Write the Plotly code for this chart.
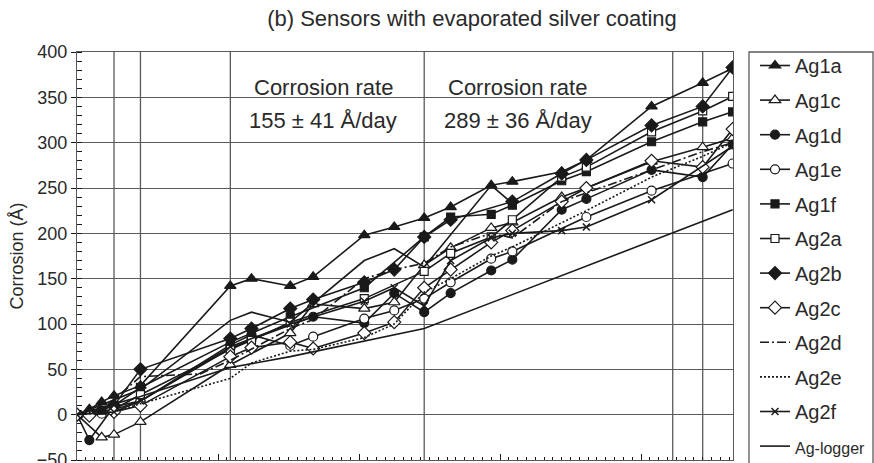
import plotly.graph_objects as go

# Elapsed time (hours) and corrosion thickness (Å) for each sensor
ag1a_t = [0, 0.7, 1.4, 2.1, 3.6, 8.7, 9.9, 12.1, 13.4, 16.3, 18.0, 19.7, 21.2, 23.5, 24.7, 27.5, 28.9, 32.6, 35.5, 37.2]
ag1a_v = [0, 6, 14, 21, 32, 142, 150, 142, 152, 198, 207, 217, 229, 253, 257, 268, 281, 340, 366, 382]

ag1c_t = [0, 1.4, 2.1, 3.6, 8.7, 12.1, 13.4, 16.3, 18.0, 19.7, 21.2, 23.5, 24.7, 27.5, 28.9, 32.6, 35.5, 37.2]
ag1c_v = [0, -25, -22, -8, 55, 90, 122, 117, 124, 165, 184, 206, 212, 240, 250, 279, 295, 305]

ag1d_t = [0, 0.7, 2.1, 3.6, 8.7, 9.9, 13.4, 16.3, 18.0, 19.7, 21.2, 23.5, 24.7, 27.5, 28.9, 32.6, 35.5, 37.2]
ag1d_v = [0, -28, 9, 15, 73, 83, 108, 101, 134, 113, 134, 159, 171, 226, 238, 270, 262, 298]

ag1e_t = [0, 1.4, 3.6, 8.7, 9.9, 12.1, 13.4, 16.3, 18.0, 19.7, 21.2, 23.5, 24.7, 28.9, 32.6, 37.2]
ag1e_v = [0, 1, 15, 77, 88, 76, 86, 106, 115, 128, 146, 172, 180, 218, 247, 277]

ag1f_t = [0, 1.4, 2.1, 3.6, 8.7, 9.9, 12.1, 16.3, 19.7, 21.2, 23.5, 24.7, 27.5, 28.9, 32.6, 35.5, 37.2]
ag1f_v = [0, 5, 10, 30, 80, 90, 108, 140, 196, 218, 221, 231, 258, 268, 301, 323, 334]

ag2a_t = [0, 2.1, 3.6, 8.7, 9.9, 12.1, 16.3, 19.7, 21.2, 23.5, 24.7, 27.5, 28.9, 32.6, 35.5, 37.2]
ag2a_v = [0, 6, 22, 72, 82, 102, 128, 158, 178, 196, 215, 262, 273, 312, 335, 351]

ag2b_t = [0, 2.1, 3.6, 8.7, 9.9, 12.1, 13.4, 16.3, 18.0, 19.7, 21.2, 24.7, 27.5, 28.9, 32.6, 35.5, 37.2]
ag2b_v = [0, 10, 50, 84, 95, 117, 127, 146, 160, 196, 215, 235, 266, 281, 319, 340, 383]

ag2c_t = [0, 0.7, 2.1, 3.6, 8.7, 9.9, 12.1, 13.4, 16.3, 18.0, 19.7, 21.2, 23.5, 24.7, 27.5, 28.9, 32.6, 35.5, 37.2]
ag2c_v = [0, -1, 3, 10, 64, 74, 80, 73, 90, 102, 140, 160, 190, 203, 235, 250, 280, 273, 315]

ag2d_t = [0, 1.4, 3.6, 7.0, 8.7, 12.1, 13.4, 16.3, 18.0, 19.7, 21.2, 23.5, 24.7, 27.5, 32.6, 35.5, 37.2]
ag2d_v = [0, 5, 42, 45, 60, 95, 105, 150, 160, 167, 185, 200, 195, 235, 270, 290, 300]

ag2e_t = [0, 2.1, 3.6, 8.7, 9.9, 12.1, 13.4, 16.3, 18.0, 19.7, 21.2, 23.5, 24.7, 28.9, 32.6, 35.5, 37.2]
ag2e_v = [0, 3, 12, 40, 57, 70, 72, 85, 100, 135, 150, 175, 185, 225, 262, 285, 300]

ag2f_t = [0, 2.1, 3.6, 8.7, 12.1, 16.3, 18.0, 19.7, 21.2, 23.5, 24.7, 27.5, 28.9, 32.6, 37.2]
ag2f_v = [0, 3, 15, 75, 100, 125, 140, 120, 170, 195, 200, 203, 207, 237, 296]

# unlabelled reference trace (plain solid line)
ref_t = [0, 3.6, 8.7, 9.9, 12.1, 16.3, 18.0, 19.7, 23.5, 24.7]
ref_v = [0, 28, 104, 113, 102, 170, 183, 163, 253, 233]

logger_t = [0, 3.6, 8.7, 12.1, 19.7, 37.2]
logger_v = [0, 20, 52, 64, 95, 226]

# times of the vertical reference lines
event_t = [2.1, 3.6, 8.7, 19.7, 33.8, 35.5]

INK = "#1a1a1a"
GRID = "#5a5a5a"
TXT = "#2a2a2a"
FONT = "Liberation Sans, Arial, sans-serif"

fig = go.Figure()


def add_series(name, t, v, symbol=None, filled=True, dash="solid", size=9, show=True):
    mode = "lines+markers" if symbol else "lines"
    marker = None
    if symbol:
        marker = dict(symbol=symbol, size=size,
                      color=INK if filled else "white",
                      line=dict(color=INK, width=1.2))
        if symbol.startswith("x"):
            marker = dict(symbol=symbol, size=size, color=INK,
                          line=dict(color=INK, width=1.5))
    fig.add_trace(go.Scatter(
        x=t, y=v, name=name, mode=mode, marker=marker,
        line=dict(color=INK, width=1.6, dash=dash),
        legendgroup=name, showlegend=show, cliponaxis=True,
    ))


add_series("Ag1a", ag1a_t, ag1a_v, "triangle-up", True, size=10)
add_series("Ag1c", ag1c_t, ag1c_v, "triangle-up", False, size=10)
add_series("Ag1d", ag1d_t, ag1d_v, "circle", True)
add_series("Ag1e", ag1e_t, ag1e_v, "circle", False)
add_series("Ag1f", ag1f_t, ag1f_v, "square", True, size=8)
add_series("Ag2a", ag2a_t, ag2a_v, "square", False, size=8)
add_series("Ag2b", ag2b_t, ag2b_v, "diamond", True, size=10)
add_series("Ag2c", ag2c_t, ag2c_v, "diamond", False, size=10)
add_series("Ag2d", ag2d_t, ag2d_v, None, dash="9px,3px,2px,3px")
add_series("Ag2e", ag2e_t, ag2e_v, None, dash="2px,2px")
add_series("Ag2f", ag2f_t, ag2f_v, "x-thin", size=7)
add_series("ref", ref_t, ref_v, None, show=False)
add_series('<span style="font-size:16px">Ag-logger</span>', logger_t, logger_v, None)

for t in event_t:
    fig.add_shape(type="line", xref="x", yref="paper", x0=t, x1=t, y0=0, y1=1,
                  line=dict(color=GRID, width=1.3), layer="below")

# frame around the legend, running off the bottom edge
fig.add_shape(type="rect", xref="paper", yref="paper",
              x0=(749 - 77) / 656, x1=(873 - 77) / 656, y0=-0.05, y1=1,
              line=dict(color=GRID, width=1.3), fillcolor="rgba(0,0,0,0)",
              layer="above")

ann_font = dict(family=FONT, size=22, color=TXT)
for xc, rate in [(0.375, "155 ± 41 Å/day"), (0.672, "289 ± 36 Å/day")]:
    fig.add_annotation(x=xc, y=0.914, xref="paper", yref="paper", text="Corrosion rate",
                       showarrow=False, font=ann_font, xanchor="center", yanchor="middle")
    fig.add_annotation(x=xc, y=0.833, xref="paper", yref="paper", text=rate,
                       showarrow=False, font=ann_font, xanchor="center", yanchor="middle")

fig.update_layout(
    width=874, height=463,
    margin=dict(l=77, r=141, t=52, b=3, autoexpand=False),
    paper_bgcolor="white", plot_bgcolor="white",
    font=dict(family=FONT, color=TXT),
    title=dict(text="(b) Sensors with evaporated silver coating",
               x=0.54, xref="container", xanchor="center",
               y=1 - 18 / 463, yref="container", yanchor="middle",
               font=dict(family=FONT, size=22, color=TXT)),
    showlegend=True,
    legend=dict(xref="container", x=755 / 874, xanchor="left",
                yref="container", y=1 - 46 / 463, yanchor="top",
                borderwidth=0, bgcolor="rgba(0,0,0,0)",
                font=dict(family=FONT, size=20, color=TXT),
                traceorder="grouped", tracegroupgap=5.6,
                maxheight=470, itemclick=False),
)

fig.update_xaxes(
    range=[0, 37.22], showgrid=False, zeroline=False,
    showline=True, linecolor=GRID, linewidth=1.3, mirror=True,
    showticklabels=False, ticks="inside", ticklen=6, tickcolor=INK,
    tick0=0, dtick=8,
    minor=dict(ticks="inside", ticklen=3, dtick=0.5, tickcolor=INK, showgrid=False),
)
fig.update_yaxes(
    range=[-50, 400], dtick=50, showgrid=True, gridcolor=GRID, gridwidth=1.3,
    zeroline=False, showline=True, linecolor=GRID, linewidth=1.3, mirror=True,
    ticks="outside", ticklen=5, tickcolor=INK, ticklabeloverflow="allow",
    tickfont=dict(family=FONT, size=18, color=TXT),
    minor=dict(ticks="inside", ticklen=5, dtick=10, tickcolor=INK, showgrid=False),
    title=dict(text="Corrosion (Å)", standoff=8,
               font=dict(family=FONT, size=18, color=TXT)),
)

fig.write_html("out.html")
